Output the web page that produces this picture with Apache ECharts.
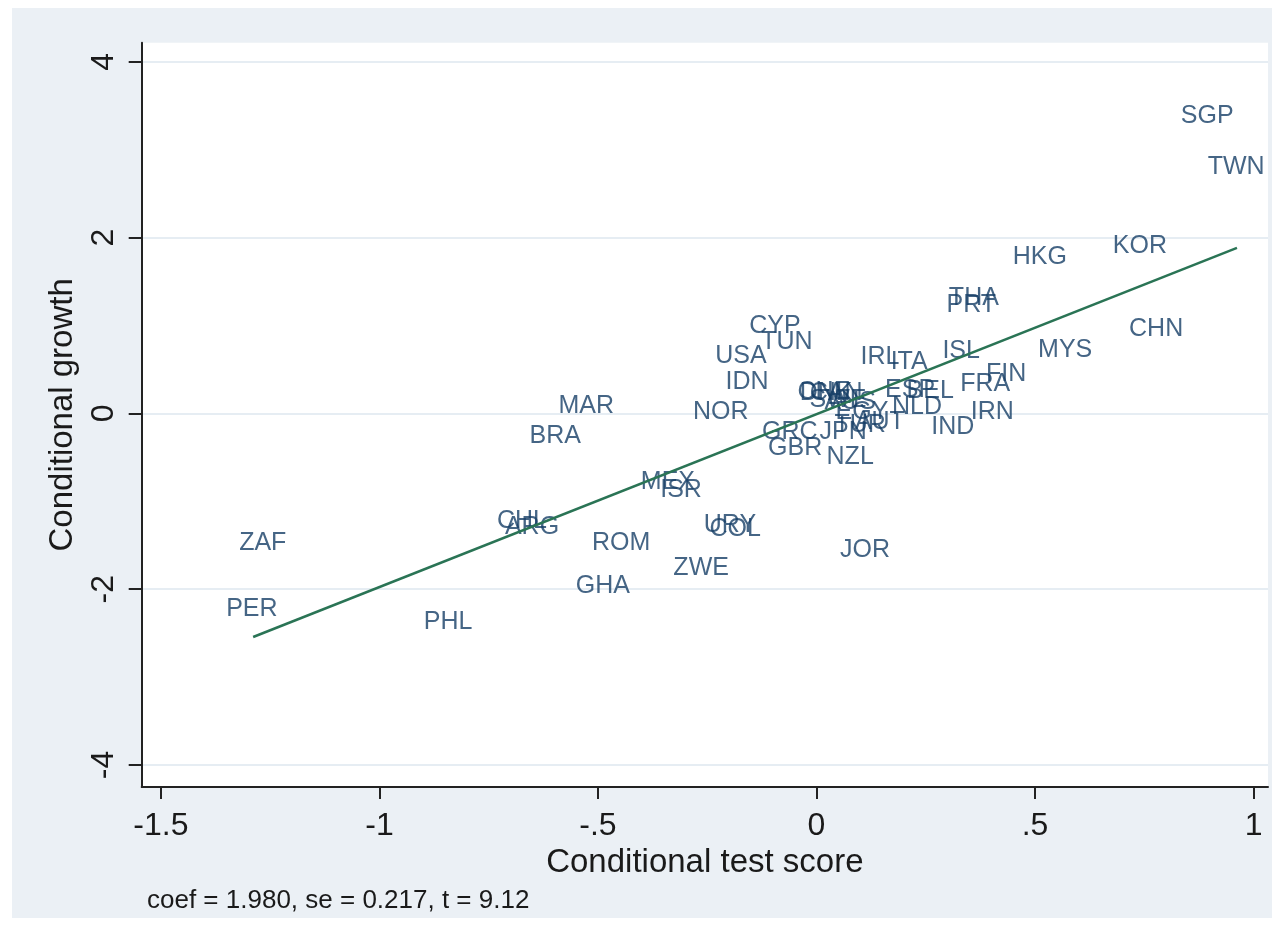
<!DOCTYPE html>
<html>
<head>
<meta charset="utf-8">
<script src="https://cdn.jsdelivr.net/npm/echarts@6/dist/echarts.min.js"></script>
<style>html,body{margin:0;padding:0;background:#fff}#c{width:1272px;height:926px}</style>
</head>
<body>
<div id="c"></div>
<script>
const countries = ['SGP','TWN','HKG','KOR','CHN','MYS','THA','PRT','ISL','FIN','FRA','IRN','IND','BEL','ESP','NLD','IRL','ITA','CYP','TUN','USA','IDN','NOR','CHE','DNK','CAN','SWE','AUS','EGY','AUT','TUR','GRC','JPN','GBR','NZL','MAR','BRA','MEX','ISR','CHL','ARG','ROM','GHA','ZWE','URY','COL','JOR','ZAF','PER','PHL'];
const testScore = [0.894,0.960,0.511,0.740,0.777,0.569,0.360,0.354,0.331,0.434,0.386,0.402,0.312,0.260,0.214,0.230,0.145,0.212,-0.095,-0.068,-0.173,-0.159,-0.219,0.017,0.022,0.045,0.049,0.077,0.104,0.145,0.100,-0.061,0.061,-0.049,0.077,-0.527,-0.598,-0.340,-0.310,-0.674,-0.651,-0.447,-0.489,-0.264,-0.198,-0.186,0.111,-1.267,-1.292,-0.843];
const growth = [3.383,2.803,1.779,1.904,0.960,0.721,1.313,1.233,0.710,0.448,0.334,0.016,-0.155,0.255,0.266,0.073,0.642,0.585,0.994,0.812,0.653,0.357,0.016,0.243,0.232,0.232,0.152,0.130,0.016,-0.098,-0.132,-0.212,-0.212,-0.394,-0.496,0.084,-0.257,-0.780,-0.871,-1.224,-1.292,-1.474,-1.964,-1.759,-1.270,-1.315,-1.554,-1.474,-2.225,-2.373];
const fitX = [-1.289, 0.962];
const fitY = [-2.544, 1.882];
const xTicks = [-1.5,-1,-0.5,0,0.5,1];
const yTicks = [-4,-2,0,2,4];
const noteText = 'coef = 1.980, se = 0.217, t = 9.12';

function stataFmt(v){
  if (v === 0) return '0';
  let s = String(v);
  s = s.replace(/^0\./,'.').replace(/^-0\./,'-.');
  return s;
}

const chart = echarts.init(document.getElementById('c'), null, {renderer:'canvas'});
const FONT = '"Liberation Sans", Arial, sans-serif';
const option = {
  backgroundColor: '#ffffff',
  animation: false,
  graphic: [{
    type: 'rect', z: -10, silent: true,
    shape: {x: 12, y: 8, width: 1260, height: 910},
    style: {fill: '#ebf0f5'}
  }],
  title: {
    text: noteText, left: 147, top: 888, padding: 0,
    textStyle: {fontFamily: FONT, fontSize: 26, fontWeight: 'normal', color: '#1a1a1a'}
  },
  grid: {left: 141.7, top: 42.7, right: 4, bottom: 139, show: true, backgroundColor: '#ffffff', borderWidth: 0},
  xAxis: {
    type: 'value', min: -1.544, max: 1.033,
    name: 'Conditional test score', nameLocation: 'middle', nameGap: 47,
    nameTextStyle: {fontFamily: FONT, fontSize: 33, color: '#1a1a1a'},
    axisLine: {show: true, onZero: false, lineStyle: {color: '#222', width: 2}},
    axisTick: {show: true, length: 12, lineStyle: {color: '#222', width: 2}, customValues: xTicks},
    axisLabel: {fontFamily: FONT, fontSize: 32, color: '#1a1a1a', margin: 23, customValues: xTicks, formatter: stataFmt},
    splitLine: {show: false}
  },
  yAxis: {
    type: 'value', min: -4.25, max: 4.217,
    name: 'Conditional growth', nameLocation: 'middle', nameGap: 50,
    nameTextStyle: {fontFamily: FONT, fontSize: 33, color: '#1a1a1a'},
    axisLine: {show: true, onZero: false, lineStyle: {color: '#222', width: 2}},
    axisTick: {show: true, length: 13, lineStyle: {color: '#222', width: 2}, customValues: yTicks},
    axisLabel: {fontFamily: FONT, fontSize: 32, color: '#1a1a1a', margin: 22, rotate: 90, customValues: yTicks, formatter: stataFmt},
    splitLine: {show: false}
  },
  series: [
    {
      type: 'scatter',
      symbol: 'circle', symbolSize: 0.1,
      itemStyle: {color: 'rgba(0,0,0,0)'},
      data: countries.map((c,i)=>({name: c, value: [testScore[i], growth[i]]})),
      label: {show: true, position: 'inside', formatter: p => p.name,
        fontFamily: FONT, fontSize: 25, color: '#163f66'},
      markLine: {
        silent: true, symbol: 'none', z: 0,
        label: {show: false},
        lineStyle: {color: '#e6edf3', width: 2, type: 'solid'},
        data: yTicks.map(v => ({yAxis: v}))
      },
      z: 3
    },
    {
      type: 'line', showSymbol: false, symbol: 'none',
      data: fitX.map((x,i)=>[x, fitY[i]]),
      lineStyle: {color: '#2a7455', width: 2.5},
      z: 4
    }
  ]
};
chart.setOption(option);
</script>
</body>
</html>
